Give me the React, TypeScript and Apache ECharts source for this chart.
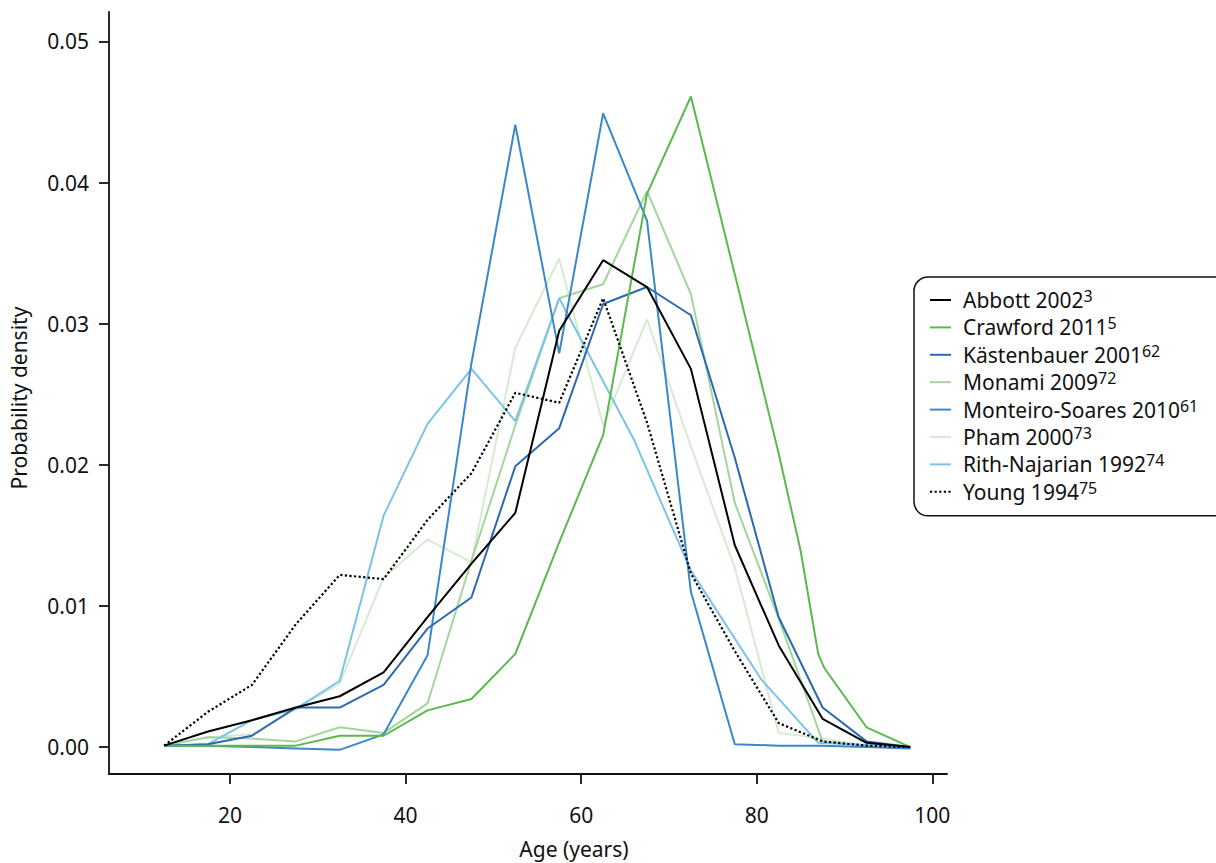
import React, { useEffect, useRef } from "react";
import * as echarts from "echarts";

// Age midpoints (years)
const ages = [12.5, 17.5, 22.5, 27.5, 32.5, 37.5, 42.5, 47.5, 52.5, 57.5, 62.5, 67.5, 72.5, 77.5, 82.5, 87.5, 92.5, 97.5];
const crawfordAges = [12.5, 17.5, 22.5, 27.5, 32.5, 37.5, 42.5, 47.5, 52.5, 57.5, 62.5, 67.5, 72.5, 77.5, 82.5, 85, 87, 87.7, 92.5, 97.5];
const rithAges = [12.5, 17.5, 22.5, 27.5, 32.5, 37.5, 42.5, 47.5, 52.5, 57.5, 66, 72.5, 80.5, 87, 97.5];

// Probability density values
const abbott = [0.0001, 0.0011, 0.0019, 0.0028, 0.0036, 0.0053, 0.0092, 0.013, 0.0166, 0.0295, 0.0345, 0.0326, 0.0268, 0.0143, 0.0072, 0.002, 0.0003, 0.0];
const crawford = [0.0001, 0.0001, 0.0001, 0.0001, 0.0008, 0.0008, 0.0026, 0.0034, 0.0066, 0.0145, 0.0221, 0.0392, 0.0461, 0.0335, 0.0208, 0.0139, 0.0066, 0.0056, 0.0014, 0.0];
const kastenbauer = [0.0001, 0.0002, 0.0008, 0.0028, 0.0028, 0.0044, 0.0084, 0.0106, 0.0199, 0.0226, 0.0314, 0.0326, 0.0306, 0.0205, 0.0092, 0.0028, 0.0004, 0.0];
const monami = [0.0001, 0.0007, 0.0006, 0.0004, 0.0014, 0.001, 0.0031, 0.0132, 0.0228, 0.0318, 0.0328, 0.0394, 0.0321, 0.0173, 0.0091, 0.0004, 0.0001, 0.0];
const monteiro = [0.0001, 0.0001, 0.0, -0.0001, -0.0002, 0.0009, 0.0065, 0.0272, 0.0441, 0.0279, 0.0449, 0.0373, 0.011, 0.0002, 0.0001, 0.0001, 0.0, -0.0001];
const pham = [0.0001, 0.0007, 0.0009, 0.0027, 0.0045, 0.012, 0.0147, 0.0131, 0.0283, 0.0346, 0.0228, 0.0303, 0.0213, 0.0127, 0.001, 0.0006, 0.0001, 0.0];
const rith = [0.0001, 0.0002, 0.0019, 0.0027, 0.0047, 0.0164, 0.0229, 0.0268, 0.0231, 0.0318, 0.0218, 0.0125, 0.0048, 0.0003, 0.0];
const young = [0.0001, 0.0025, 0.0044, 0.0087, 0.0122, 0.0119, 0.0161, 0.0194, 0.0251, 0.0244, 0.0318, 0.023, 0.0123, 0.0068, 0.0017, 0.0004, 0.0001, 0.0];

// Tick labels
const xTicks = [20, 40, 60, 80, 100];
const yTicks = [0, 0.01, 0.02, 0.03, 0.04, 0.05];

// Legend names and reference numbers
const names = ["Abbott 2002", "Crawford 2011", "Kästenbauer 2001", "Monami 2009", "Monteiro-Soares 2010", "Pham 2000", "Rith-Najarian 1992", "Young 1994"];
const refs = ["3", "5", "62", "72", "61", "73", "74", "75"];

const FONT = "Noto Sans";

function pairs(xs: number[], ys: number[]) {
  return xs.map((x, i) => [x, ys[i]]);
}

export default function App() {
  const ref = useRef<HTMLDivElement>(null);

  useEffect(() => {
    if (!ref.current) return;
    const chart = echarts.init(ref.current, undefined, { renderer: "svg" });
    const refMap: Record<string, string> = {};
    names.forEach((n, i) => (refMap[n] = refs[i]));

    const mk = (name: string, xs: number[], ys: number[], color: string, dash?: any, width = 2) => ({
      name,
      type: "line",
      data: pairs(xs, ys),
      symbol: "none",
      showSymbol: false,
      smooth: false,
      lineStyle: { color, width, type: dash || "solid" },
      itemStyle: { color },
      emphasis: { disabled: true },
    });

    const option: any = {
      animation: false,
      textStyle: { fontFamily: FONT },
      grid: { left: 109, top: 12, width: 838, height: 762, containLabel: false },
      xAxis: {
        type: "value",
        min: 6.22,
        max: 101.67,
        axisLine: { show: true, onZero: false, lineStyle: { color: "#111", width: 1.8 } },
        axisTick: { show: true, length: 10, customValues: xTicks, lineStyle: { color: "#111", width: 1.8 } },
        axisLabel: { customValues: xTicks, fontSize: 21, color: "#111", margin: 30, fontFamily: FONT },
        splitLine: { show: false },
      },
      yAxis: {
        type: "value",
        min: -0.00191,
        max: 0.05209,
        name: "Probability density",
        nameLocation: "middle",
        nameGap: 80,
        nameTextStyle: { fontSize: 21, color: "#111", fontFamily: FONT, padding: [0, 10, 0, 0] },
        axisLine: { show: true, onZero: false, lineStyle: { color: "#111", width: 1.8 } },
        axisTick: { show: true, length: 10, customValues: yTicks, lineStyle: { color: "#111", width: 1.8 } },
        axisLabel: {
          customValues: yTicks,
          fontSize: 21,
          color: "#111",
          margin: 20,
          fontFamily: FONT,
          formatter: (v: number) => v.toFixed(2),
        },
        splitLine: { show: false },
      },
      legend: {
        show: true,
        orient: "vertical",
        left: 914,
        top: 277,
        padding: [11, 40, 12, 15],
        itemWidth: 21,
        itemHeight: 14,
        itemGap: 3.4,
        borderColor: "#111",
        borderWidth: 1.5,
        borderRadius: 14,
        backgroundColor: "#fff",
        selectedMode: false,
        itemStyle: { opacity: 0, borderWidth: 0 },
        data: names,
        formatter: (name: string) => `{n|${name}}{s|${refMap[name]}}`,
        textStyle: {
          fontSize: 21,
          color: "#111",
          fontFamily: FONT,
          rich: {
            n: { fontSize: 21, lineHeight: 22, padding: [0, 0, 0, 7], color: "#111", fontFamily: FONT },
            s: { fontSize: 16, lineHeight: 14, padding: [0, 0, 8, 0], color: "#111", fontFamily: FONT },
          },
        },
      },
      graphic: [
        {
          type: "text",
          x: 574,
          y: 849,
          style: {
            text: "Age (years)",
            fontSize: 21,
            fontFamily: FONT,
            fill: "#111",
            align: "center",
            verticalAlign: "middle",
          },
        },
      ],
      series: [
        mk(names[5], ages, pham, "#d5ecd0"),
        mk(names[3], ages, monami, "#a3d69b"),
        mk(names[6], rithAges, rith, "#7cc3ea"),
        mk(names[4], ages, monteiro, "#3a88c9"),
        mk(names[2], ages, kastenbauer, "#2a69b0"),
        mk(names[1], crawfordAges, crawford, "#5ab94c"),
        mk(names[7], ages, young, "#000000", [2.2, 2.4], 2.2),
        mk(names[0], ages, abbott, "#000000"),
      ],
    };

    chart.setOption(option);
    return () => chart.dispose();
  }, []);

  return (
    <div
      ref={ref}
      style={{ position: "fixed", left: 0, top: 0, width: 1216, height: 863, background: "#fff" }}
    />
  );
}
